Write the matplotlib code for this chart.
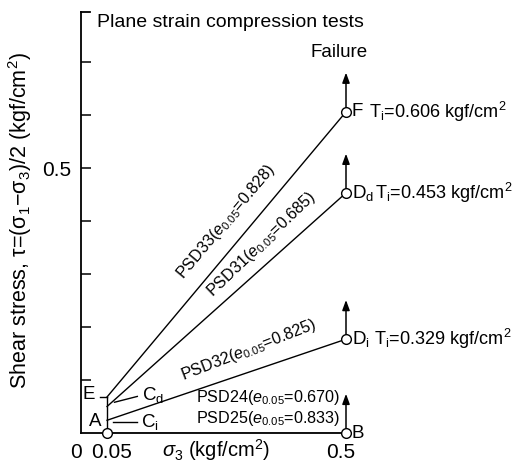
"""
Stress paths of the plane strain compression tests in the sigma3 - tau plane.
"""

import numpy as np
import matplotlib
matplotlib.use("Agg")
import matplotlib.pyplot as plt
from matplotlib.transforms import offset_copy

plt.rcParams["font.family"] = ["Liberation Sans", "DejaVu Sans"]
plt.rcParams["mathtext.fontset"] = "custom"
plt.rcParams["mathtext.rm"] = "Liberation Sans"
plt.rcParams["mathtext.it"] = "Liberation Sans:italic"

# ---------------------------------------------------------------------------
# Data (sigma3 and tau in kgf/cm2)
# ---------------------------------------------------------------------------

sigma3_start = 0.05
sigma3_end = 0.5

# points on the consolidation line sigma3 = 0.05
start_names = ["A", r"C$_\mathrm{i}$", r"C$_\mathrm{d}$", "E"]
start_tau = [0.0, 0.024, 0.050, 0.068]

# end points of the shearing paths at sigma3 = 0.5
end_names = ["B", r"D$_\mathrm{i}$", r"D$_\mathrm{d}$", "F"]
end_tau = [0.0, 0.177, 0.453, 0.606]
tau_i = [None, 0.329, 0.453, 0.606]

# tests and their void ratio e_0.05
test_names = ["PSD25", "PSD24", "PSD32", "PSD31", "PSD33"]
test_e = [0.833, 0.670, 0.825, 0.685, 0.828]

y_ticks = [0.1, 0.2, 0.3, 0.4, 0.5, 0.6, 0.7]
x_ticks = [0, 0.05, 0.5]
x_tick_labels = ["0", "0.05", "0.5"]

# ---------------------------------------------------------------------------
# Figure
# ---------------------------------------------------------------------------

W, H = 518, 463
fig = plt.figure(figsize=(W / 100, H / 100), dpi=100)
x0_px, y0_px = 80.5, 433            # origin in pixels from top-left
px_x, px_y = 531.0, 530.0           # pixels per kgf/cm2
ax = fig.add_axes([x0_px / W, (H - y0_px) / H, (W - x0_px) / W, y0_px / H])
ax.set_xlim(0, (W - x0_px) / px_x)
ax.set_ylim(0, y0_px / px_y)
ax.patch.set_visible(False)

for s in ["top", "right"]:
    ax.spines[s].set_visible(False)
ax.spines["left"].set_bounds(0, 0.795)
ax.spines["bottom"].set_bounds(0, sigma3_end)
for s in ["left", "bottom"]:
    ax.spines[s].set_linewidth(1.3)
# small bracket at the top of the tau axis
ax.plot([0, 0.018], [0.795, 0.795], color="k", lw=1.3, clip_on=False)

ax.set_yticks(y_ticks)
ax.set_yticklabels(["0.5" if t == 0.5 else "" for t in y_ticks])
ax.tick_params(axis="y", direction="in", length=7, width=1.1, pad=6.5,
               labelsize=15)

# sigma3 tick labels, nudged apart so "0" and "0.05" do not run together
ax.set_xticks([])
for xv, lab, dx in zip(x_ticks, x_tick_labels, [-4.5, 5, -5]):
    tr = offset_copy(ax.get_xaxis_transform(), fig=fig, x=dx, y=-20,
                     units="dots")
    ax.text(xv, 0, lab, transform=tr, fontsize=15, ha="center", va="center")

# consolidation line A -> E
ax.plot([sigma3_start, sigma3_start], [start_tau[0], start_tau[-1]],
        color="k", lw=1.0)

# shearing paths
for t0, t1 in zip(start_tau, end_tau):
    ax.plot([sigma3_start, sigma3_end], [t0, t1], color="k", lw=1.0)

# failure arrows above the end points
for t1 in end_tau:
    ax.annotate("", xy=(sigma3_end, t1 + 0.074), xytext=(sigma3_end, t1),
                arrowprops=dict(arrowstyle="-|>,head_length=0.6,head_width=0.22",
                                color="k", lw=1.1, shrinkA=3.5, shrinkB=0))

# open circles at A and at the end points
ax.plot([sigma3_start], [start_tau[0]], "o", ms=7, mfc="white", mec="k",
        mew=1.0, clip_on=False, zorder=5)
ax.plot([sigma3_end] * len(end_tau), end_tau, "o", ms=7, mfc="white",
        mec="k", mew=1.0, clip_on=False, zorder=5)

# labels of the start points
ax.text(0.040, start_tau[0] + 0.021, start_names[0], fontsize=13.5,
        ha="right", va="center")
ax.text(0.028, start_tau[3] + 0.004, start_names[3], fontsize=13.5,
        ha="right", va="center")
ax.plot([0.037, sigma3_start], [start_tau[3], start_tau[3]], color="k", lw=1.0)
ax.plot([0.061, 0.106], [start_tau[1] - 0.003, start_tau[1] - 0.003],
        color="k", lw=1.0)
ax.text(0.114, start_tau[1] - 0.003, start_names[1], fontsize=13.5,
        ha="left", va="center")
ax.plot([0.064, 0.107], [start_tau[2] + 0.008, start_tau[2] + 0.019],
        color="k", lw=1.0)
ax.text(0.116, start_tau[2] + 0.022, start_names[2], fontsize=13.5,
        ha="left", va="center")

# labels of the end points
ti_x = [None, 0.553, 0.555, 0.543]
for name, t1, ti, tx in zip(end_names, end_tau, tau_i, ti_x):
    ax.text(0.511, t1, name, fontsize=13.5, ha="left", va="center")
    if ti is not None:
        ax.text(tx, t1, rf"T$_\mathrm{{i}}$={ti:.3f} kgf/cm$^2$",
                fontsize=13.1, ha="left", va="center")


def test_label(i):
    return f"{test_names[i]}($e_{{0.05}}$={test_e[i]:.3f})"


# test labels along the shearing paths
for i, (x, y, k, extra) in enumerate([(0.274, 0.398, 3, 0), (0.341, 0.357, 2, 2),
                                      (0.317, 0.157, 1, 2.5)]):
    p0 = ax.transData.transform((sigma3_start, start_tau[k]))
    p1 = ax.transData.transform((sigma3_end, end_tau[k]))
    ang = np.degrees(np.arctan2(p1[1] - p0[1], p1[0] - p0[0])) + extra
    ax.text(x, y, test_label(4 - i), fontsize=11.6, rotation=ang,
            rotation_mode="anchor", ha="center", va="center")
ax.text(0.489, 0.059, test_label(1), fontsize=11.6, ha="right", va="baseline")
ax.text(0.489, 0.019, test_label(0), fontsize=11.6, ha="right", va="baseline")

ax.text(0.031, 0.775, "Plane strain compression tests", fontsize=14,
        ha="left", va="center")
ax.text(0.486, 0.717, "Failure", fontsize=13.5, ha="center", va="center")
fig.text(216 / W, 1 - 450 / H, r"$\sigma_3$ (kgf/cm$^2$)", fontsize=14.5,
         ha="center", va="center")
fig.text(20 / W, 1 - 221 / H, "Shear stress, τ=(σ$_1$−σ$_3$)/2 (kgf/cm$^2$)",
         fontsize=15.5, rotation=90, ha="center", va="center")

fig.savefig("out.png", dpi=100)
